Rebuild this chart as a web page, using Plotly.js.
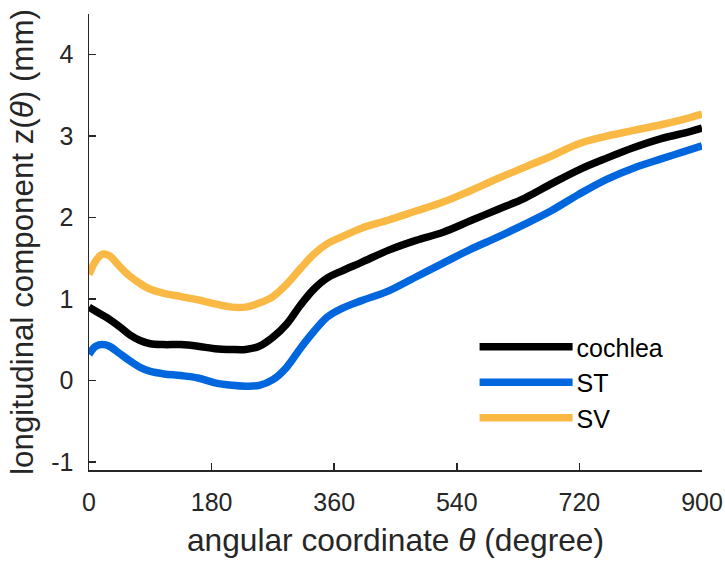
<!DOCTYPE html>
<html>
<head>
<meta charset="utf-8">
<script src="https://cdn.plot.ly/plotly-3.0.1.min.js"></script>
<style>html,body{margin:0;padding:0;background:#fff;}#chart{width:725px;height:563px;}</style>
</head>
<body>
<div id="chart"></div>
<script>
// angular coordinate theta (degree)
const theta = [0, 10, 20, 30, 45, 60, 75, 90, 110, 135, 160, 185, 210, 230, 250, 270, 290, 310, 330, 350, 370, 400, 440, 480, 520, 560, 600, 640, 680, 720, 760, 800, 840, 870, 900];
// longitudinal component z (mm)
const cochlea = [0.90, 0.85, 0.80, 0.75, 0.66, 0.56, 0.49, 0.45, 0.44, 0.44, 0.42, 0.39, 0.38, 0.38, 0.42, 0.53, 0.69, 0.92, 1.12, 1.26, 1.34, 1.45, 1.60, 1.72, 1.82, 1.96, 2.10, 2.24, 2.42, 2.59, 2.73, 2.86, 2.97, 3.03, 3.10];
const ST = [0.32, 0.42, 0.44, 0.42, 0.33, 0.24, 0.16, 0.11, 0.08, 0.06, 0.03, -0.03, -0.06, -0.07, -0.06, 0.01, 0.16, 0.39, 0.60, 0.78, 0.88, 0.98, 1.10, 1.27, 1.44, 1.61, 1.76, 1.92, 2.09, 2.29, 2.47, 2.61, 2.72, 2.80, 2.88];
const SV = [1.30, 1.47, 1.55, 1.53, 1.40, 1.28, 1.19, 1.12, 1.07, 1.03, 0.99, 0.94, 0.90, 0.90, 0.95, 1.03, 1.18, 1.37, 1.55, 1.68, 1.76, 1.87, 1.97, 2.08, 2.19, 2.33, 2.48, 2.62, 2.76, 2.91, 3.00, 3.07, 3.14, 3.20, 3.27];
const seriesNames = ['cochlea', 'ST', 'SV'];
const xTicks = [0, 180, 360, 540, 720, 900];
const yTicks = [-1, 0, 1, 2, 3, 4];

const colors = ['#000000', '#0066DD', '#F9B944'];
const ys = [cochlea, ST, SV];
const traces = ys.map((y, i) => ({
  x: theta, y: y, type: 'scatter', mode: 'lines', name: seriesNames[i],
  line: {color: colors[i], width: 7.5, shape: 'spline', smoothing: 1}
}));

const axisColor = '#262626';
const fontFam = 'Liberation Sans, Arial, sans-serif';
const layout = {
  width: 725, height: 563,
  margin: {l: 88.6, r: 23.3, t: 14, b: 93},
  paper_bgcolor: '#fff', plot_bgcolor: '#fff',
  font: {family: fontFam, color: axisColor, size: 25},
  showlegend: true,
  legend: {x: 0.629, y: 0.32, xanchor: 'left', yanchor: 'top', bgcolor: 'rgba(0,0,0,0)',
           font: {family: fontFam, size: 25, color: '#000'}, itemwidth: 92, tracegroupgap: 0},
  xaxis: {
    range: [0, 900], tickvals: xTicks, ticktext: xTicks.map(String),
    ticks: 'inside', ticklen: 7, tickwidth: 1.5, tickcolor: axisColor,
    showline: true, linecolor: axisColor, linewidth: 1.5, showgrid: false, zeroline: false,
    tickfont: {size: 25, color: axisColor}, ticklabelstandoff: 9,
    title: {text: 'angular coordinate <i>θ</i> (degree)', font: {size: 31.7, color: axisColor}, standoff: 14}
  },
  yaxis: {
    range: [-1.1, 4.5], tickvals: yTicks, ticktext: yTicks.map(String),
    ticks: 'inside', ticklen: 7, tickwidth: 1.5, tickcolor: axisColor,
    showline: true, linecolor: axisColor, linewidth: 1.5, showgrid: false, zeroline: false,
    tickfont: {size: 25, color: axisColor}, ticklabelstandoff: 9,
    title: {text: 'longitudinal component z(<i>θ</i>) (mm)', font: {size: 31.3, color: axisColor}, standoff: 8}
  }
};

Plotly.newPlot('chart', traces, layout, {displayModeBar: false, staticPlot: true}).then(gd => {
  // lengthen legend line symbols to match reference
  document.querySelectorAll('.legend .legendlines path').forEach(p => {
    p.setAttribute('d', 'M5,0h93');
  });
});
</script>
</body>
</html>
